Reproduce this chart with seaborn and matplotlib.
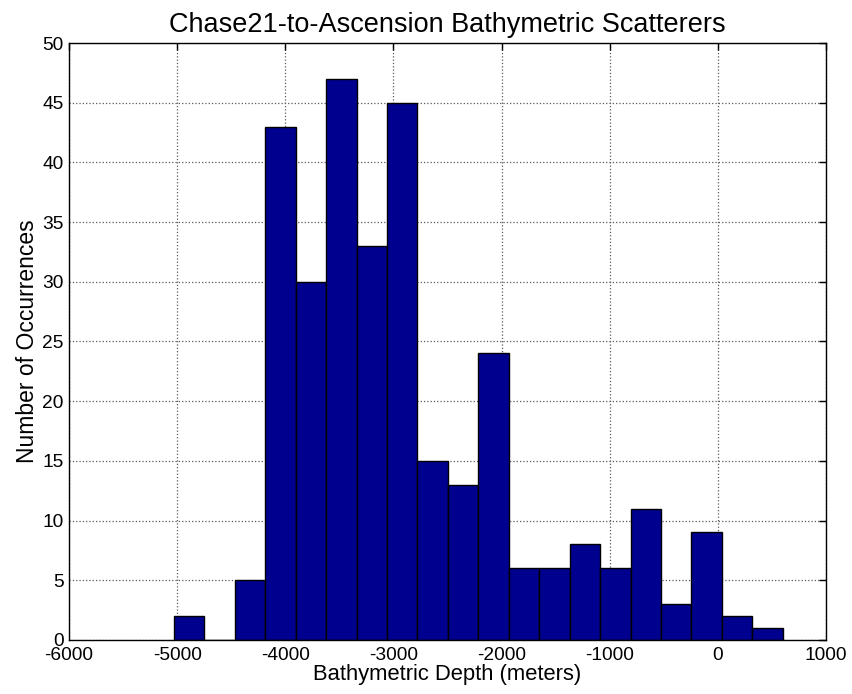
import numpy as np
import matplotlib
matplotlib.use("Agg")
import matplotlib.pyplot as plt
import seaborn as sns

# histogram bin edges (meters) and counts
bin_edges = [-5030, -4748.5, -4467, -4185.5, -3904, -3622.5, -3341, -3059.5,
             -2778, -2496.5, -2215, -1933.5, -1652, -1370.5, -1089, -807.5,
             -526, -244.5, 37, 318.5, 600]
counts = [2, 0, 5, 43, 30, 47, 33, 45, 15, 13, 24, 6, 6, 8, 6, 11, 3, 9, 2, 1]
x_ticks = [-6000, -5000, -4000, -3000, -2000, -1000, 0, 1000]
y_ticks = [0, 5, 10, 15, 20, 25, 30, 35, 40, 45, 50]

centers = [(a + b) / 2 for a, b in zip(bin_edges[:-1], bin_edges[1:])]

sns.set_style("white")
plt.rcParams['font.family'] = ['Liberation Sans', 'DejaVu Sans']
plt.rcParams['axes.unicode_minus'] = False
plt.rcParams['text.color'] = 'black'
plt.rcParams['axes.labelcolor'] = 'black'

fig = plt.figure(figsize=(8.52, 6.94), dpi=100)
ax = fig.add_axes([0.081, 0.078, 0.8885, 0.860])

sns.histplot(x=centers, weights=counts, bins=bin_edges, ax=ax,
             color='#00008F', alpha=1, edgecolor='black', linewidth=1.0)

ax.set_xlim(-6000, 1000)
ax.set_ylim(0, 50)
ax.set_xticks(x_ticks)
ax.set_yticks(y_ticks)
ax.grid(True, linestyle=':', color='0.35', linewidth=0.9)
ax.set_axisbelow(True)
ax.tick_params(direction='in', top=True, right=True, length=5, width=1,
               labelsize=13.8, colors='black', pad=4)
ax.tick_params(axis='x', pad=5)
for s in ax.spines.values():
    s.set_visible(True)
    s.set_color('black')
    s.set_linewidth(1.0)

ax.set_title('Chase21-to-Ascension Bathymetric Scatterers', fontsize=19.5,
             pad=8, color='black')
ax.set_xlabel('Bathymetric Depth (meters)', fontsize=15.8, labelpad=0)
ax.set_ylabel('Number of Occurrences', fontsize=16.5, labelpad=2)

fig.savefig('out.png', dpi=100)
